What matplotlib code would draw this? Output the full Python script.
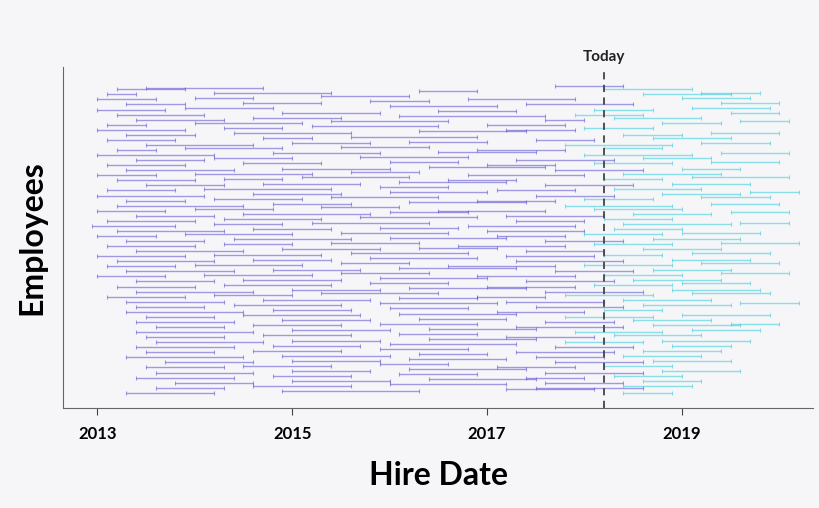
import matplotlib.pyplot as plt

plt.rcParams['font.family'] = ['Lato', 'DejaVu Sans']

# each row: list of (hire start, end) in decimal years, top row first
rows = [
    [(2013.2, 2013.9), (2013.5, 2014.7), (2017.7, 2018.4), (2018.2, 2019.1)],
    [(2013.1, 2013.4), (2014.2, 2015.4), (2016.3, 2016.9), (2018.6, 2019.5), (2019.2, 2019.8)],
    [(2013.0, 2013.6), (2014.0, 2014.6), (2015.3, 2016.2), (2016.8, 2017.9), (2019.0, 2019.7)],
    [(2013.3, 2013.9), (2014.5, 2015.3), (2015.8, 2016.4), (2017.4, 2018.5), (2019.4, 2020.0)],
    [(2013.0, 2013.7), (2013.9, 2014.8), (2016.0, 2017.1), (2018.1, 2018.7), (2019.1, 2019.9)],
    [(2013.2, 2014.1), (2014.9, 2015.9), (2016.5, 2017.3), (2017.9, 2018.6), (2019.5, 2020.0)],
    [(2013.4, 2014.3), (2014.6, 2015.5), (2016.1, 2017.6), (2017.6, 2018.0), (2018.3, 2019.2)],
    [(2013.1, 2013.5), (2014.0, 2015.1), (2015.4, 2016.6), (2017.0, 2017.8), (2018.8, 2019.4), (2019.6, 2020.1)],
    [(2013.0, 2013.9), (2014.3, 2014.9), (2015.2, 2016.5), (2017.2, 2017.9), (2018.0, 2018.7)],
    [(2013.3, 2014.0), (2014.4, 2015.6), (2016.3, 2017.4), (2018.4, 2019.0), (2019.3, 2020.0)],
    [(2013.1, 2013.8), (2014.7, 2015.2), (2015.6, 2016.9), (2017.5, 2018.1), (2018.7, 2019.5)],
    [(2013.5, 2014.6), (2015.0, 2015.8), (2016.2, 2017.0), (2017.8, 2018.9), (2019.2, 2019.9)],
    [(2013.2, 2013.6), (2013.9, 2014.9), (2015.5, 2016.4), (2016.9, 2017.8), (2018.2, 2018.8)],
    [(2013.0, 2014.2), (2014.8, 2015.9), (2016.5, 2017.5), (2018.0, 2019.1), (2019.4, 2020.1)],
    [(2013.4, 2014.1), (2014.2, 2015.0), (2015.7, 2016.8), (2017.3, 2018.3), (2018.6, 2019.3)],
    [(2013.1, 2013.9), (2014.5, 2015.3), (2016.0, 2016.7), (2017.0, 2017.7), (2018.1, 2018.9), (2019.3, 2020.0)],
    [(2013.3, 2014.4), (2014.9, 2016.0), (2016.4, 2017.6), (2017.7, 2018.6), (2019.0, 2019.6)],
    [(2013.0, 2013.6), (2014.0, 2015.2), (2015.6, 2016.3), (2016.8, 2018.0), (2018.4, 2019.4)],
    [(2013.2, 2014.0), (2014.3, 2014.9), (2015.1, 2016.2), (2016.6, 2017.3), (2018.2, 2018.8), (2019.1, 2020.1)],
    [(2013.5, 2014.3), (2014.7, 2015.7), (2016.1, 2017.2), (2017.6, 2018.5), (2018.9, 2019.7)],
    [(2013.1, 2013.8), (2014.1, 2015.4), (2015.9, 2016.6), (2017.1, 2017.9), (2018.3, 2019.2)],
    [(2013.0, 2014.1), (2014.6, 2015.5), (2016.0, 2017.0), (2017.5, 2018.3), (2018.8, 2019.6), (2019.7, 2020.2)],
    [(2013.3, 2013.9), (2014.2, 2015.1), (2015.4, 2016.5), (2016.9, 2017.7), (2018.0, 2018.7), (2019.2, 2019.9)],
    [(2013.2, 2014.5), (2014.8, 2015.6), (2016.2, 2017.4), (2017.8, 2018.9), (2019.3, 2020.0)],
    [(2013.0, 2013.7), (2014.0, 2014.8), (2015.3, 2016.1), (2016.5, 2017.6), (2018.1, 2019.0)],
    [(2013.4, 2014.2), (2014.5, 2015.8), (2016.0, 2016.8), (2017.2, 2018.2), (2018.5, 2019.3), (2019.5, 2020.1)],
    [(2013.1, 2014.0), (2014.3, 2015.3), (2015.7, 2016.9), (2017.3, 2018.0), (2018.2, 2018.9)],
    [(2012.95, 2013.8), (2014.2, 2014.9), (2015.2, 2016.4), (2016.8, 2017.9), (2018.4, 2019.5), (2019.6, 2020.1)],
    [(2013.2, 2014.3), (2014.6, 2015.4), (2015.9, 2016.7), (2017.0, 2018.0), (2018.3, 2019.0)],
    [(2013.0, 2013.6), (2013.9, 2015.0), (2015.5, 2016.6), (2017.1, 2017.8), (2018.0, 2018.8), (2019.0, 2019.8)],
    [(2013.3, 2014.1), (2014.4, 2015.6), (2016.0, 2017.2), (2017.6, 2018.4), (2018.7, 2019.6)],
    [(2013.1, 2014.0), (2014.3, 2015.0), (2015.4, 2016.3), (2016.7, 2017.8), (2018.1, 2018.9), (2019.4, 2020.2)],
    [(2013.4, 2014.5), (2014.9, 2015.9), (2016.3, 2017.1), (2017.4, 2018.2), (2018.6, 2019.4)],
    [(2013.0, 2013.9), (2014.2, 2015.3), (2015.6, 2016.8), (2017.2, 2018.1), (2018.2, 2018.8), (2019.1, 2019.9)],
    [(2013.2, 2014.2), (2014.6, 2015.4), (2015.8, 2016.9), (2017.3, 2018.4), (2018.9, 2019.7)],
    [(2013.1, 2013.8), (2014.0, 2015.1), (2015.5, 2016.2), (2016.6, 2017.7), (2018.0, 2018.9), (2019.2, 2020.0)],
    [(2013.3, 2014.4), (2014.8, 2015.7), (2016.1, 2017.3), (2017.7, 2018.5), (2018.7, 2019.5)],
    [(2013.0, 2013.7), (2014.1, 2015.2), (2015.5, 2016.4), (2016.9, 2017.9), (2018.2, 2019.0), (2019.4, 2020.1)],
    [(2013.4, 2014.2), (2014.5, 2015.5), (2015.9, 2017.0), (2017.4, 2018.3), (2018.5, 2019.4)],
    [(2013.2, 2014.0), (2014.3, 2015.4), (2015.8, 2016.6), (2017.0, 2017.9), (2018.1, 2018.9), (2019.0, 2019.7)],
    [(2013.4, 2014.6), (2015.0, 2015.9), (2016.2, 2017.4), (2017.6, 2018.6), (2018.9, 2019.8)],
    [(2013.1, 2013.9), (2014.2, 2015.0), (2015.3, 2016.5), (2016.9, 2017.6), (2017.8, 2018.7), (2019.1, 2019.9)],
    [(2013.3, 2014.3), (2014.7, 2015.8), (2016.1, 2016.9), (2017.2, 2018.2), (2018.4, 2019.3)],
    [(2013.4, 2014.1), (2014.4, 2015.5), (2015.9, 2017.1), (2017.5, 2018.4), (2018.6, 2019.5), (2019.6, 2020.2)],
    [(2013.3, 2014.5), (2014.8, 2015.6), (2016.0, 2016.8), (2017.1, 2018.0), (2018.2, 2018.8)],
    [(2013.5, 2014.2), (2014.5, 2015.7), (2016.1, 2017.3), (2017.8, 2018.7), (2019.0, 2019.9)],
    [(2013.4, 2014.4), (2014.9, 2015.8), (2016.3, 2017.2), (2017.6, 2018.3), (2018.5, 2019.3)],
    [(2013.6, 2014.3), (2014.6, 2015.5), (2015.9, 2016.9), (2017.3, 2018.4), (2018.7, 2019.6), (2019.5, 2020.0)],
    [(2013.4, 2014.6), (2015.0, 2016.0), (2016.4, 2017.5), (2017.9, 2018.8), (2019.1, 2019.8)],
    [(2013.5, 2014.3), (2014.7, 2015.6), (2016.1, 2016.9), (2017.2, 2018.1), (2018.3, 2019.2)],
    [(2013.6, 2014.7), (2015.0, 2015.9), (2016.4, 2017.5), (2017.8, 2018.6), (2018.8, 2019.7)],
    [(2013.4, 2014.4), (2014.8, 2015.7), (2016.0, 2017.3), (2017.7, 2018.5), (2018.9, 2019.5)],
    [(2013.5, 2014.2), (2014.6, 2015.5), (2015.9, 2016.8), (2017.3, 2018.3), (2018.6, 2019.4)],
    [(2013.3, 2014.5), (2014.9, 2016.0), (2016.3, 2017.0), (2017.5, 2018.2), (2018.4, 2019.2)],
    [(2013.7, 2014.6), (2015.0, 2015.9), (2016.2, 2017.2), (2017.7, 2018.6), (2018.7, 2019.5)],
    [(2013.5, 2014.3), (2014.5, 2015.4), (2015.9, 2016.6), (2017.1, 2017.9), (2018.2, 2018.9)],
    [(2013.6, 2014.6), (2015.0, 2015.8), (2016.2, 2017.4), (2017.6, 2018.6), (2018.8, 2019.6)],
    [(2013.4, 2014.4), (2014.8, 2015.6), (2016.1, 2016.9), (2017.4, 2018.0), (2018.3, 2019.0)],
    [(2013.8, 2014.6), (2015.0, 2016.0), (2016.4, 2017.5), (2017.6, 2018.4), (2018.6, 2019.2)],
    [(2013.6, 2014.3), (2014.6, 2015.6), (2016.0, 2017.2), (2017.5, 2018.6), (2018.4, 2019.1)],
    [(2013.3, 2014.2), (2014.9, 2016.3), (2017.2, 2018.1), (2018.4, 2018.9)],
]

today = 2018.2
future_cutoff = 2017.75  # hires starting after this shown in cyan
year_ticks = [2013, 2015, 2017, 2019]

bg = "#f6f6f8"
fig = plt.figure(figsize=(8.2, 5.08), dpi=100, facecolor=bg)
ax = fig.add_axes([0.077, 0.197, 0.915, 0.672], facecolor=bg)

n = len(rows)
for i, segs in enumerate(rows):
    y = n - i
    for j, (s, e) in enumerate(segs):
        yy = y + (j % 3) * 0.33
        col = "#1fc8da" if s > future_cutoff else "#4a3dd2"
        ax.plot([s, e], [yy, yy], color=col, alpha=0.5, lw=1.0,
                marker="|", markersize=2.5, markeredgewidth=0.8,
                solid_capstyle="butt")

ax.axvline(today, color="#444444", ls=(0, (4, 3)), lw=1.3)
ax.text(today, n + 5.0, "Today", ha="center", va="bottom",
        fontsize=11, fontweight="bold", color="#222222", clip_on=False)

ax.set_xlim(2012.65, 2020.35)
ax.set_ylim(-2.0, n + 4.5)
ax.set_xticks(year_ticks)
ax.set_xticklabels([str(t) for t in year_ticks], fontsize=12, fontweight="bold")
ax.set_yticks([])
ax.tick_params(axis="x", length=5, color="#444444", pad=8)
for side in ["top", "right"]:
    ax.spines[side].set_visible(False)
ax.spines["left"].set_color("#666666")
ax.spines["bottom"].set_color("#666666")
ax.set_xlabel("Hire Date", fontsize=23, fontweight="bold", labelpad=14)
ax.set_ylabel("Employees", fontsize=23, fontweight="bold", labelpad=12)

fig.savefig("out.png", dpi=100, facecolor=bg)
